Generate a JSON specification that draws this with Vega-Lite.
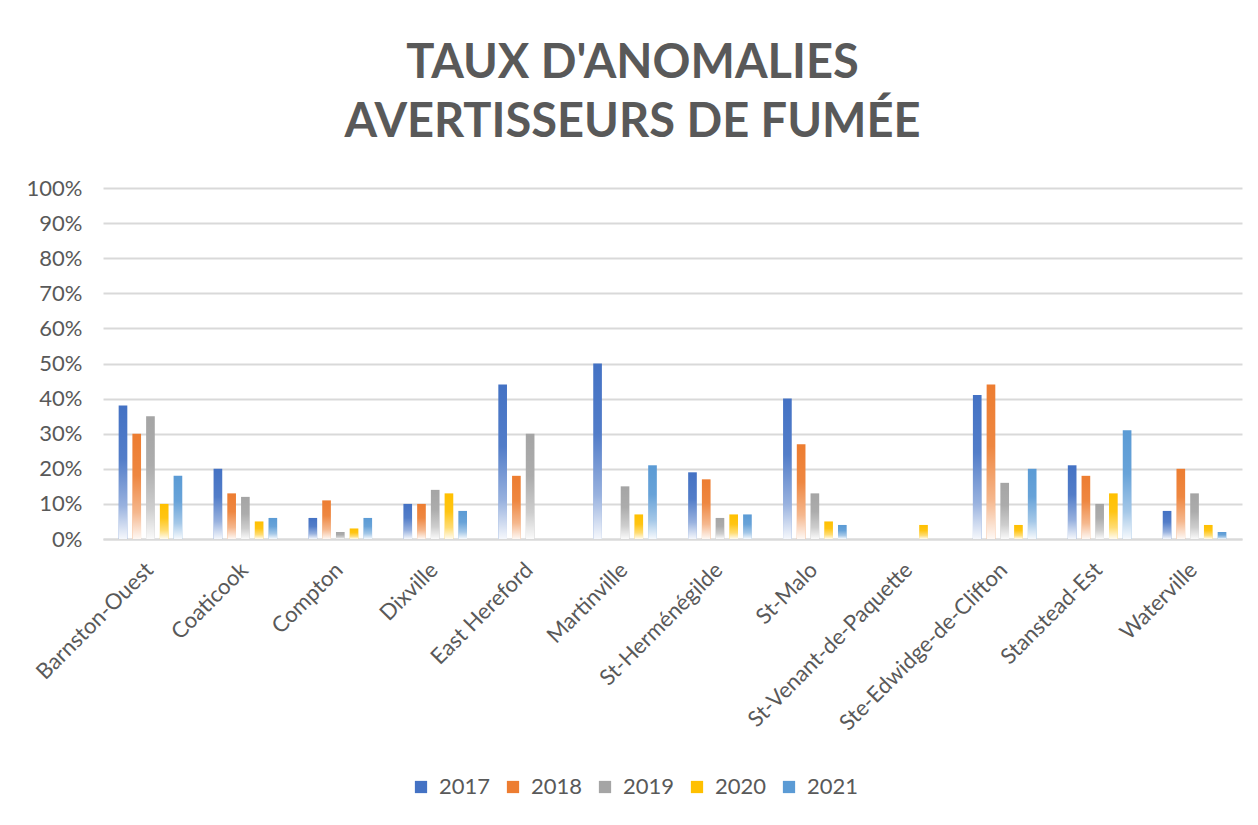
{
  "$schema": "https://vega.github.io/schema/vega-lite/v6.json",
  "autosize": {"type": "none"},
  "width": 1139,
  "height": 351,
  "padding": {"left": 103, "top": 188, "right": 16, "bottom": 286},
  "background": "white",
  "config": {"view": {"stroke": null}},
  "title": {
    "text": ["TAUX D'ANOMALIES", "AVERTISSEURS DE FUMÉE"],
    "font": "Lato",
    "fontSize": 47,
    "fontWeight": "bold",
    "color": "#595959",
    "lineHeight": 59,
    "anchor": "middle",
    "frame": "group",
    "offset": 30,
    "dx": -40
  },
  "data": {
    "values": [
      {"commune": "Barnston-Ouest", "annee": "2017", "taux": 0.38},
      {"commune": "Barnston-Ouest", "annee": "2018", "taux": 0.30},
      {"commune": "Barnston-Ouest", "annee": "2019", "taux": 0.35},
      {"commune": "Barnston-Ouest", "annee": "2020", "taux": 0.10},
      {"commune": "Barnston-Ouest", "annee": "2021", "taux": 0.18},
      {"commune": "Coaticook", "annee": "2017", "taux": 0.20},
      {"commune": "Coaticook", "annee": "2018", "taux": 0.13},
      {"commune": "Coaticook", "annee": "2019", "taux": 0.12},
      {"commune": "Coaticook", "annee": "2020", "taux": 0.05},
      {"commune": "Coaticook", "annee": "2021", "taux": 0.06},
      {"commune": "Compton", "annee": "2017", "taux": 0.06},
      {"commune": "Compton", "annee": "2018", "taux": 0.11},
      {"commune": "Compton", "annee": "2019", "taux": 0.02},
      {"commune": "Compton", "annee": "2020", "taux": 0.03},
      {"commune": "Compton", "annee": "2021", "taux": 0.06},
      {"commune": "Dixville", "annee": "2017", "taux": 0.10},
      {"commune": "Dixville", "annee": "2018", "taux": 0.10},
      {"commune": "Dixville", "annee": "2019", "taux": 0.14},
      {"commune": "Dixville", "annee": "2020", "taux": 0.13},
      {"commune": "Dixville", "annee": "2021", "taux": 0.08},
      {"commune": "East Hereford", "annee": "2017", "taux": 0.44},
      {"commune": "East Hereford", "annee": "2018", "taux": 0.18},
      {"commune": "East Hereford", "annee": "2019", "taux": 0.30},
      {"commune": "East Hereford", "annee": "2020", "taux": 0},
      {"commune": "East Hereford", "annee": "2021", "taux": 0},
      {"commune": "Martinville", "annee": "2017", "taux": 0.50},
      {"commune": "Martinville", "annee": "2018", "taux": 0},
      {"commune": "Martinville", "annee": "2019", "taux": 0.15},
      {"commune": "Martinville", "annee": "2020", "taux": 0.07},
      {"commune": "Martinville", "annee": "2021", "taux": 0.21},
      {"commune": "St-Herménégilde", "annee": "2017", "taux": 0.19},
      {"commune": "St-Herménégilde", "annee": "2018", "taux": 0.17},
      {"commune": "St-Herménégilde", "annee": "2019", "taux": 0.06},
      {"commune": "St-Herménégilde", "annee": "2020", "taux": 0.07},
      {"commune": "St-Herménégilde", "annee": "2021", "taux": 0.07},
      {"commune": "St-Malo", "annee": "2017", "taux": 0.40},
      {"commune": "St-Malo", "annee": "2018", "taux": 0.27},
      {"commune": "St-Malo", "annee": "2019", "taux": 0.13},
      {"commune": "St-Malo", "annee": "2020", "taux": 0.05},
      {"commune": "St-Malo", "annee": "2021", "taux": 0.04},
      {"commune": "St-Venant-de-Paquette", "annee": "2017", "taux": 0},
      {"commune": "St-Venant-de-Paquette", "annee": "2018", "taux": 0},
      {"commune": "St-Venant-de-Paquette", "annee": "2019", "taux": 0},
      {"commune": "St-Venant-de-Paquette", "annee": "2020", "taux": 0.04},
      {"commune": "St-Venant-de-Paquette", "annee": "2021", "taux": 0},
      {"commune": "Ste-Edwidge-de-Clifton", "annee": "2017", "taux": 0.41},
      {"commune": "Ste-Edwidge-de-Clifton", "annee": "2018", "taux": 0.44},
      {"commune": "Ste-Edwidge-de-Clifton", "annee": "2019", "taux": 0.16},
      {"commune": "Ste-Edwidge-de-Clifton", "annee": "2020", "taux": 0.04},
      {"commune": "Ste-Edwidge-de-Clifton", "annee": "2021", "taux": 0.20},
      {"commune": "Stanstead-Est", "annee": "2017", "taux": 0.21},
      {"commune": "Stanstead-Est", "annee": "2018", "taux": 0.18},
      {"commune": "Stanstead-Est", "annee": "2019", "taux": 0.10},
      {"commune": "Stanstead-Est", "annee": "2020", "taux": 0.13},
      {"commune": "Stanstead-Est", "annee": "2021", "taux": 0.31},
      {"commune": "Waterville", "annee": "2017", "taux": 0.08},
      {"commune": "Waterville", "annee": "2018", "taux": 0.20},
      {"commune": "Waterville", "annee": "2019", "taux": 0.13},
      {"commune": "Waterville", "annee": "2020", "taux": 0.04},
      {"commune": "Waterville", "annee": "2021", "taux": 0.02}
    ]
  },
  "encoding": {
    "x": {
      "field": "commune",
      "type": "nominal",
      "sort": null,
      "scale": {"paddingInner": 0.33, "paddingOuter": 0.165},
      "axis": {
        "title": null,
        "labelAngle": -45,
        "labelFont": "Lato",
        "labelFontSize": 22,
        "labelColor": "#595959",
        "labelPadding": 20,
        "labelOffset": -8,
        "labelLimit": 0,
        "labelOverlap": false,
        "ticks": false,
        "domainColor": "#d9d9d9",
        "domainWidth": 2,
        "grid": false
      }
    },
    "xOffset": {
      "field": "annee",
      "type": "nominal",
      "scale": {"paddingInner": 0.37, "paddingOuter": 0}
    },
    "y": {
      "field": "taux",
      "type": "quantitative",
      "scale": {"domain": [0, 1]},
      "axis": {
        "title": null,
        "format": ".0%",
        "values": [0, 0.1, 0.2, 0.3, 0.4, 0.5, 0.6, 0.7, 0.8, 0.9, 1],
        "labelOverlap": false,
        "labelFont": "Lato",
        "labelFontSize": 22,
        "labelColor": "#595959",
        "labelPadding": 21,
        "ticks": false,
        "domain": false,
        "gridColor": "#d9d9d9",
        "gridWidth": 2
      }
    }
  },
  "layer": [
    {
      "mark": {"type": "bar"},
      "encoding": {
        "color": {
          "field": "annee",
          "type": "nominal",
          "scale": {
            "domain": ["2017", "2018", "2019", "2020", "2021"],
            "range": ["#4472C4", "#ED7D31", "#A5A5A5", "#FFC000", "#5B9BD5"]
          },
          "legend": {
            "title": null,
            "orient": "none",
            "direction": "horizontal",
            "legendX": 307,
            "legendY": 588,
            "symbolType": "square",
            "symbolSize": 150,
            "symbolStrokeWidth": 0,
            "labelFont": "Lato",
            "labelFontSize": 22,
            "labelColor": "#595959",
            "labelOffset": 7,
            "columnPadding": 11
          }
        }
      }
    },
    {
      "mark": {
        "type": "bar",
        "fill": {
          "gradient": "linear",
          "x1": 0, "y1": 0, "x2": 0, "y2": 1,
          "stops": [
            {"offset": 0, "color": "rgba(255,255,255,0)"},
            {"offset": 0.4, "color": "rgba(255,255,255,0.08)"},
            {"offset": 0.75, "color": "rgba(255,255,255,0.45)"},
            {"offset": 1, "color": "rgba(255,255,255,0.95)"}
          ]
        }
      },
      "encoding": {}
    }
  ]
}
